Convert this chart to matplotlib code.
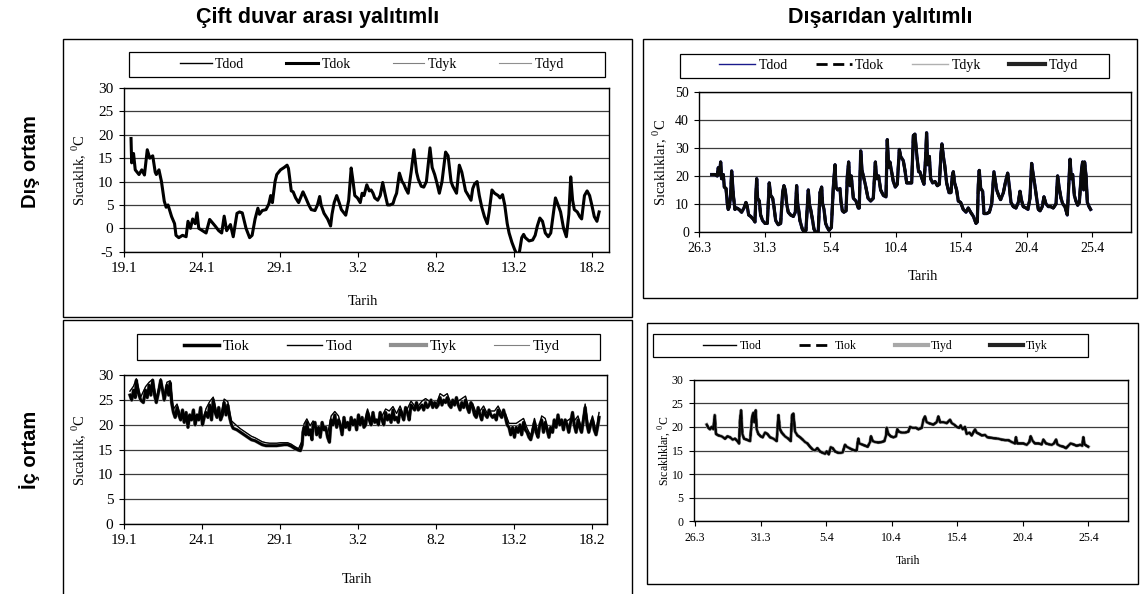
import matplotlib
matplotlib.use("Agg")
import matplotlib.pyplot as plt
from matplotlib.patches import Rectangle
from matplotlib.lines import Line2D

plt.rcParams['font.family'] = ['Liberation Serif', 'DejaVu Serif']
plt.rcParams['mathtext.fontset'] = 'custom'
plt.rcParams['mathtext.rm'] = 'Liberation Serif'
plt.rcParams['axes.unicode_minus'] = False

# ---------------- data (day offset from first tick, temperature) ----------------
TICK_DAYS = [0, 5, 10, 15, 20, 25, 30]
LEFT_TICKLABELS = ['19.1', '24.1', '29.1', '3.2', '8.2', '13.2', '18.2']
RIGHT_TICKLABELS = ['26.3', '31.3', '5.4', '10.4', '15.4', '20.4', '25.4']

# Çift duvar arası yalıtımlı - dış ortam (Tdod, Tdok, Tdyk, Tdyd overlap)
CDA_OUT = [(0.47,19.2),(0.51,14.0),(0.63,16.0),(0.74,12.5),(0.98,11.5),(1.16,12.5),(1.33,11.4),(1.51,16.8),(1.67,15.0),(1.86,15.5),
 (2.02,12.0),(2.09,11.5),(2.26,12.5),(2.42,10.0),(2.60,5.8),(2.72,4.5),(2.84,5.0),(3.07,2.5),(3.26,1.0),(3.35,-1.5),
 (3.53,-2.0),(3.77,-1.5),(4.00,-1.8),(4.12,1.5),(4.28,0.0),(4.42,2.0),(4.58,1.0),(4.70,3.3),(4.81,0.0),(5.05,-0.5),
 (5.28,-1.0),(5.51,1.9),(5.74,1.0),(5.86,0.5),(6.09,-0.5),(6.28,-1.0),(6.44,2.6),(6.60,-0.5),(6.84,0.8),(7.02,-1.8),
 (7.26,3.2),(7.42,3.5),(7.60,3.3),(7.84,0.0),(8.07,-2.0),(8.23,-1.5),(8.42,2.0),(8.60,4.3),(8.70,3.0),(8.88,3.8),
 (9.12,4.0),(9.30,5.2),(9.42,7.0),(9.53,5.5),(9.70,10.0),(9.81,11.5),(10.05,12.5),(10.28,13.0),(10.47,13.5),(10.56,12.8),
 (10.74,8.0),(10.86,7.8),(11.02,6.5),(11.21,5.5),(11.33,6.5),(11.49,7.8),(11.67,6.5),(11.86,5.0),(12.02,4.0),(12.26,3.8),
 (12.42,5.0),(12.56,6.8),(12.65,5.0),(12.84,3.2),(13.07,2.0),(13.26,0.5),(13.35,3.0),(13.49,5.5),(13.65,7.0),(13.81,5.5),
 (13.95,4.0),(14.23,2.8),(14.42,6.0),(14.58,12.9),(14.70,10.0),(14.81,7.0),(14.98,6.5),(15.16,5.5),(15.28,7.5),(15.40,7.0),
 (15.58,9.3),(15.74,8.0),(15.86,8.2),(15.98,7.5),(16.09,6.5),(16.28,6.0),(16.44,7.0),(16.60,9.8),(16.74,7.5),(16.91,5.0),
 (17.07,5.0),(17.26,5.3),(17.37,6.5),(17.49,7.5),(17.67,11.8),(17.84,10.0),(17.95,9.5),(18.07,8.5),(18.23,7.5),(18.42,12.0),
 (18.60,16.8),(18.77,12.0),(18.88,10.5),(19.07,9.0),(19.23,8.8),(19.40,10.0),(19.63,17.2),(19.77,13.0),(19.93,11.5),(20.05,10.0),
 (20.23,7.5),(20.40,10.0),(20.63,16.3),(20.79,15.5),(20.98,10.0),(21.09,9.0),(21.33,7.5),(21.51,13.5),(21.67,12.0),(21.79,10.0),
 (21.91,8.0),(22.09,7.0),(22.26,6.0),(22.37,8.5),(22.49,9.5),(22.65,10.0),(22.79,7.0),(22.95,4.5),(23.12,2.5),(23.30,1.0),
 (23.42,3.5),(23.60,8.2),(23.77,7.5),(24.00,7.0),(24.12,6.5),(24.28,7.2),(24.42,5.0),(24.58,1.0),(24.70,-1.0),(24.88,-3.0),
 (25.05,-4.5),(25.16,-5.3),(25.35,-5.3),(25.51,-2.0),(25.63,-1.3),(25.74,-2.0),(25.98,-2.7),(26.21,-2.5),(26.37,-1.5),(26.51,0.5),
 (26.67,2.2),(26.84,1.5),(27.02,-1.0),(27.21,-1.8),(27.37,-1.0),(27.53,3.0),(27.67,6.5),(27.84,5.0),(28.00,3.5),(28.19,0.0),
 (28.37,-1.8),(28.53,3.0),(28.65,11.0),(28.77,6.0),(28.88,4.0),(29.07,3.5),(29.23,2.5),(29.35,2.0),(29.53,7.0),(29.70,8.0),
 (29.86,7.0),(30.00,5.0),(30.16,2.5),(30.33,1.5),(30.47,3.5)]

# Dışarıdan yalıtımlı - dış ortam
DY_OUT = [(0.94,20.5),(1.20,20.5),(1.37,20.0),(1.45,23.0),(1.53,20.5),(1.63,25.0),(1.70,19.0),(1.83,20.5),(1.91,16.0),(2.04,15.5),
 (2.14,10.0),(2.21,8.0),(2.29,9.0),(2.39,13.0),(2.47,21.8),(2.60,13.0),(2.72,8.0),(2.85,8.5),(3.03,8.0),(3.23,7.0),
 (3.41,8.5),(3.56,10.5),(3.66,9.0),(3.77,6.0),(3.92,5.5),(4.12,4.5),(4.25,3.5),(4.33,14.0),(4.38,19.0),(4.45,12.0),
 (4.58,11.0),(4.68,6.0),(4.83,4.0),(5.01,3.0),(5.19,3.0),(5.34,17.5),(5.45,13.0),(5.60,12.0),(5.70,9.0),(5.83,4.0),
 (6.03,2.5),(6.21,3.0),(6.36,14.0),(6.46,16.5),(6.56,15.0),(6.67,10.0),(6.79,7.0),(6.97,6.0),(7.18,5.5),(7.33,7.0),
 (7.43,16.5),(7.51,10.0),(7.58,8.0),(7.68,4.0),(7.86,1.0),(7.99,0.0),(8.14,0.5),(8.32,15.0),(8.40,10.0),(8.50,8.0),
 (8.65,4.0),(8.75,1.0),(8.91,-0.5),(9.08,0.0),(9.21,14.0),(9.34,16.0),(9.41,10.0),(9.52,8.0),(9.64,3.0),(9.77,1.5),
 (9.90,0.5),(10.08,1.5),(10.23,16.0),(10.36,24.0),(10.43,16.0),(10.56,15.0),(10.74,15.5),(10.81,11.0),(10.92,7.5),(11.04,7.0),
 (11.20,7.5),(11.30,20.0),(11.40,25.0),(11.50,16.5),(11.60,20.0),(11.76,12.0),(11.96,11.0),(12.14,8.5),(12.21,8.5),(12.32,29.0),
 (12.42,22.0),(12.52,20.0),(12.67,17.0),(12.88,12.0),(13.08,11.0),(13.28,12.0),(13.44,25.0),(13.54,19.0),(13.69,20.0),(13.84,15.0),
 (14.05,13.0),(14.25,12.5),(14.35,33.0),(14.45,23.0),(14.55,25.0),(14.66,22.0),(14.81,18.0),(14.96,16.0),(15.11,17.0),(15.27,29.5),
 (15.37,27.0),(15.57,25.5),(15.70,22.0),(15.83,17.5),(16.03,17.5),(16.21,17.5),(16.34,34.5),(16.46,35.0),(16.59,28.0),(16.74,21.5),
 (16.84,21.5),(17.00,19.0),(17.15,17.0),(17.28,27.0),(17.35,35.5),(17.43,24.0),(17.56,27.0),(17.66,19.0),(17.81,17.5),(17.99,18.0),
 (18.17,16.5),(18.32,17.0),(18.45,28.0),(18.52,31.5),(18.63,27.0),(18.73,24.0),(18.88,17.5),(19.06,14.0),(19.21,14.0),(19.31,20.0),
 (19.39,21.5),(19.49,17.5),(19.64,15.0),(19.77,11.0),(19.95,10.5),(20.15,8.0),(20.36,7.0),(20.53,8.5),(20.71,7.0),(20.92,5.5),
 (21.12,3.0),(21.22,3.5),(21.30,17.0),(21.37,22.0),(21.48,15.5),(21.63,14.5),(21.73,6.5),(21.93,6.5),(22.14,7.0),(22.32,10.0),
 (22.49,21.5),(22.60,18.0),(22.70,15.0),(22.85,13.0),(23.00,11.5),(23.21,14.0),(23.38,18.0),(23.54,21.0),(23.66,16.5),(23.79,10.5),
 (23.97,9.0),(24.17,8.5),(24.35,10.5),(24.48,14.5),(24.61,11.0),(24.73,9.0),(24.94,8.5),(25.09,8.0),(25.24,12.0),(25.37,24.5),
 (25.50,20.0),(25.62,16.5),(25.75,12.0),(25.88,8.0),(26.01,7.5),(26.18,9.0),(26.31,12.5),(26.46,10.0),(26.64,9.0),(26.82,9.0),
 (27.02,8.5),(27.23,10.0),(27.35,20.0),(27.48,15.5),(27.61,12.0),(27.74,10.0),(27.91,9.0),(28.09,6.0),(28.30,26.0),(28.40,19.0),
 (28.50,20.5),(28.63,13.0),(28.75,11.0),(28.88,9.5),(29.01,10.5),(29.19,23.0),(29.26,25.0),(29.34,15.0),(29.41,25.0),(29.52,20.0),
 (29.62,10.5),(29.75,9.0),(29.87,8.0)]

# Çift duvar arası yalıtımlı - iç ortam: Tiok (lower) and Tiod/Tiyd (upper)
CDA_IN_LOW = [(0.40,26.0),(0.51,25.0),(0.63,27.0),(0.74,25.5),(0.81,29.0),(0.93,26.5),(1.09,25.0),(1.26,24.5),(1.40,27.0),(1.51,25.5),
 (1.63,28.0),(1.74,26.0),(1.86,29.0),(1.98,26.0),(2.09,24.5),(2.26,27.0),(2.37,29.0),(2.49,27.0),(2.60,25.0),(2.77,28.0),
 (2.88,26.0),(2.98,28.5),(3.07,24.5),(3.19,22.5),(3.30,21.5),(3.42,23.5),(3.53,22.0),(3.65,21.0),(3.77,23.0),(3.88,20.5),
 (4.00,22.5),(4.12,19.5),(4.23,22.0),(4.35,21.0),(4.47,23.0),(4.58,20.0),(4.70,22.0),(4.81,21.0),(4.93,23.5),(5.05,20.0),
 (5.16,21.5),(5.28,22.5),(5.40,21.5),(5.51,24.0),(5.63,21.0),(5.74,25.0),(5.86,22.5),(5.98,21.5),(6.09,23.5),(6.21,21.0),
 (6.33,22.0),(6.44,24.5),(6.56,22.0),(6.67,24.0),(6.79,21.5),(6.91,20.0),(7.02,19.3),(7.26,19.0),(7.49,18.5),(7.72,18.0),
 (7.95,17.5),(8.19,17.0),(8.42,16.8),(8.65,16.4),(8.88,16.0),(9.12,15.8),(9.35,15.8),(9.58,15.8),(9.81,15.8),(10.05,15.9),
 (10.28,16.0),(10.51,16.0),(10.74,15.7),(10.98,15.2),(11.21,14.9),(11.33,14.8),(11.44,16.0),(11.49,18.5),(11.56,19.5),(11.67,18.0),
 (11.74,20.5),(11.86,18.0),(11.95,19.0),(12.07,17.0),(12.14,20.0),(12.26,20.5),(12.37,18.0),(12.49,19.5),(12.60,17.5),(12.72,20.5),
 (12.84,19.0),(12.95,19.5),(13.07,17.5),(13.19,16.5),(13.30,21.0),(13.42,20.0),(13.53,22.0),(13.65,19.5),(13.77,21.0),(13.88,20.0),
 (14.00,18.0),(14.12,21.5),(14.23,19.5),(14.35,20.5),(14.47,19.0),(14.58,21.5),(14.70,20.0),(14.81,21.0),(14.93,19.0),(15.05,22.0),
 (15.16,20.0),(15.28,21.5),(15.40,19.5),(15.51,20.0),(15.63,22.5),(15.74,21.0),(15.86,20.0),(15.98,22.5),(16.09,20.5),(16.21,21.0),
 (16.33,20.0),(16.44,22.5),(16.56,21.0),(16.67,20.0),(16.79,22.5),(16.91,21.0),(17.02,22.0),(17.14,20.5),(17.26,23.0),(17.37,21.0),
 (17.49,21.5),(17.60,20.5),(17.72,23.0),(17.84,22.0),(17.95,21.0),(18.07,23.5),(18.19,22.5),(18.30,21.0),(18.42,24.0),(18.53,23.5),
 (18.65,23.0),(18.77,24.5),(18.88,23.0),(19.00,23.5),(19.12,24.0),(19.23,23.0),(19.35,24.5),(19.47,23.5),(19.58,24.0),(19.70,25.0),
 (19.81,23.5),(19.93,24.5),(20.05,23.5),(20.16,24.0),(20.28,25.5),(20.40,24.0),(20.51,25.0),(20.63,24.5),(20.74,25.5),(20.86,24.0),
 (20.98,23.5),(21.09,25.0),(21.21,24.0),(21.33,25.5),(21.44,24.0),(21.56,23.0),(21.67,24.5),(21.79,23.5),(21.91,25.0),(22.02,23.5),
 (22.14,22.5),(22.26,24.5),(22.37,23.5),(22.49,22.0),(22.60,21.5),(22.72,23.5),(22.84,22.0),(22.95,21.0),(23.07,23.0),(23.19,22.0),
 (23.30,21.5),(23.42,23.0),(23.53,22.0),(23.65,21.5),(23.77,22.0),(23.88,21.0),(24.00,23.0),(24.12,22.0),(24.23,21.5),(24.35,23.0),
 (24.47,21.5),(24.58,20.0),(24.70,19.5),(24.81,18.0),(24.93,19.5),(25.05,17.5),(25.16,19.5),(25.28,18.5),(25.40,20.0),(25.51,18.0),
 (25.63,20.5),(25.74,19.0),(25.86,18.5),(25.98,17.5),(26.09,17.0),(26.21,18.5),(26.33,20.5),(26.44,18.5),(26.56,17.5),(26.67,20.0),
 (26.79,21.0),(26.91,18.5),(27.02,20.5),(27.14,19.0),(27.26,17.5),(27.37,19.5),(27.49,18.5),(27.60,21.0),(27.72,19.5),(27.84,22.0),
 (27.95,20.0),(28.07,21.0),(28.19,19.0),(28.30,21.0),(28.42,20.0),(28.53,18.5),(28.65,20.5),(28.77,22.5),(28.88,20.0),(29.00,18.5),
 (29.12,21.0),(29.23,19.5),(29.35,18.5),(29.47,21.0),(29.58,23.5),(29.70,20.0),(29.81,18.5),(29.93,20.0),(30.05,21.0),(30.16,19.0),
 (30.28,18.0),(30.40,20.0),(30.47,21.5)]

CDA_IN_HIGH = [(0.40,26.8),(0.63,27.8),(0.81,29.3),(1.09,25.6),(1.40,27.7),(1.63,28.6),(1.86,29.2),(2.09,25.3),(2.37,29.3),(2.60,25.8),
 (2.77,28.6),(2.98,28.9),(3.19,23.2),(3.42,24.2),(3.65,21.8),(3.88,21.3),(4.12,20.3),(4.35,21.8),(4.58,20.8),(4.81,21.8),
 (5.05,20.8),(5.28,23.3),(5.51,24.7),(5.74,25.6),(5.98,22.3),(6.21,21.8),(6.44,25.2),(6.67,24.7),(6.91,20.8),(7.26,19.8),
 (7.49,19.2),(7.72,18.7),(7.95,18.2),(8.19,17.7),(8.42,17.4),(8.65,17.0),(8.88,16.6),(9.12,16.4),(9.35,16.3),(9.58,16.3),
 (9.81,16.3),(10.05,16.4),(10.28,16.4),(10.51,16.4),(10.74,16.1),(10.98,15.6),(11.21,15.2),(11.44,16.8),(11.56,20.2),(11.74,21.2),
 (11.95,19.8),(12.14,20.8),(12.37,18.8),(12.60,18.3),(12.84,19.8),(13.07,18.2),(13.30,21.8),(13.53,22.7),(13.77,21.8),(14.00,18.8),
 (14.23,20.3),(14.47,19.8),(14.70,20.8),(14.93,19.8),(15.16,20.8),(15.40,20.3),(15.63,23.2),(15.86,20.8),(16.09,21.2),(16.33,20.8),
 (16.56,21.8),(16.79,23.2),(17.02,22.8),(17.26,23.7),(17.49,22.3),(17.72,23.8),(17.95,21.8),(18.19,23.3),(18.42,24.8),(18.65,23.8),
 (18.88,23.8),(19.12,24.8),(19.35,25.3),(19.58,24.8),(19.81,24.3),(20.05,24.3),(20.28,26.3),(20.51,25.8),(20.74,26.3),(20.98,24.3),
 (21.21,24.8),(21.44,24.8),(21.67,25.3),(21.91,25.8),(22.14,23.3),(22.37,24.3),(22.60,22.3),(22.84,22.8),(23.07,23.8),(23.30,22.3),
 (23.53,22.8),(23.77,22.8),(24.00,23.8),(24.23,22.3),(24.47,22.3),(24.70,20.3),(24.93,20.3),(25.16,20.3),(25.40,20.8),(25.63,21.3),
 (25.86,19.3),(26.09,17.8),(26.33,21.3),(26.56,18.3),(26.79,21.8),(27.02,21.3),(27.26,18.3),(27.49,19.3),(27.72,20.3),(27.95,20.8),
 (28.19,19.8),(28.42,20.8),(28.65,21.3),(28.88,20.8),(29.12,21.8),(29.35,19.3),(29.58,24.2),(29.81,19.3),(30.05,21.8),(30.28,18.8),
 (30.47,22.5)]

# Dışarıdan yalıtımlı - iç ortam (Tiod, Tiok, Tiyd, Tiyk overlap)
DY_IN = [(0.89,20.5),(1.02,19.8),(1.14,19.5),(1.27,20.0),(1.40,19.5),(1.50,22.5),(1.60,18.5),(1.78,18.2),(2.03,18.0),(2.29,17.5),
 (2.47,18.0),(2.67,17.8),(2.87,17.3),(3.05,17.5),(3.23,17.0),(3.36,16.5),(3.43,21.5),(3.51,23.5),(3.61,18.5),(3.74,17.5),
 (3.94,17.3),(4.20,17.0),(4.35,22.0),(4.45,23.0),(4.53,21.0),(4.63,23.5),(4.70,19.5),(4.83,18.5),(5.01,18.0),(5.16,17.8),
 (5.34,18.8),(5.52,18.5),(5.72,17.8),(5.98,17.5),(6.23,17.0),(6.36,22.5),(6.48,19.5),(6.61,18.8),(6.86,18.0),(7.12,17.5),
 (7.30,17.0),(7.40,22.5),(7.50,22.8),(7.63,19.0),(7.81,18.2),(8.01,17.8),(8.21,17.3),(8.39,16.8),(8.57,16.5),(8.77,15.8),
 (8.98,15.2),(9.15,15.0),(9.33,15.5),(9.53,14.8),(9.74,14.5),(9.92,14.3),(10.04,14.8),(10.20,14.2),(10.35,15.7),(10.50,15.5),
 (10.68,14.8),(10.93,14.5),(11.11,14.5),(11.26,14.6),(11.44,16.2),(11.57,15.8),(11.77,15.5),(11.98,15.2),(12.20,15.0),(12.33,15.0),
 (12.41,16.7),(12.46,17.5),(12.53,16.5),(12.71,16.3),(12.97,16.0),(13.17,15.8),(13.35,16.8),(13.42,18.0),(13.55,17.0),(13.73,16.8),
 (13.98,16.7),(14.24,16.8),(14.44,17.0),(14.57,18.2),(14.62,19.8),(14.75,18.5),(14.93,18.0),(15.13,17.8),(15.33,18.0),(15.43,19.5),
 (15.54,19.0),(15.76,18.8),(16.02,18.8),(16.27,19.0),(16.40,20.0),(16.60,19.8),(16.86,19.8),(17.04,19.5),(17.29,19.8),(17.42,21.5),
 (17.54,22.2),(17.67,21.0),(17.92,20.7),(18.18,20.5),(18.43,21.0),(18.56,22.2),(18.69,21.0),(18.94,21.0),(19.20,20.8),(19.45,21.5),
 (19.58,20.8),(19.76,20.5),(19.96,20.0),(20.16,19.8),(20.26,20.3),(20.42,19.5),(20.59,20.0),(20.72,18.5),(20.93,18.8),(21.10,18.2),
 (21.36,19.5),(21.48,18.8),(21.69,18.5),(21.87,18.2),(22.12,18.3),(22.30,17.8),(22.55,17.7),(22.81,17.6),(23.14,17.5),(23.39,17.3),
 (23.65,17.2),(23.90,17.2),(24.15,16.8),(24.41,16.5),(24.48,17.8),(24.59,16.5),(24.79,16.5),(25.04,16.5),(25.30,16.2),(25.50,16.8),
 (25.60,18.0),(25.76,17.0),(25.93,16.5),(26.19,16.5),(26.44,16.3),(26.57,17.3),(26.77,16.5),(27.03,16.3),(27.21,16.2),(27.38,16.5),
 (27.54,17.3),(27.64,16.3),(27.84,16.0),(28.10,15.8),(28.30,15.5),(28.48,16.0),(28.65,16.5),(28.86,16.3),(29.11,16.0),(29.37,16.2),
 (29.54,16.0),(29.62,17.8),(29.72,16.3),(29.87,16.0),(30.00,15.8)]


def unzip(pairs):
    return [p[0] for p in pairs], [p[1] for p in pairs]


# ---------------- figure & layout helpers ----------------
W, H = 1146, 594
fig = plt.figure(figsize=(W / 100, H / 100), dpi=100)
fig.patch.set_facecolor('white')


def fx(x):
    return x / W


def fy(y):
    return 1 - y / H


def add_ax(l, t, r, b):
    return fig.add_axes([l / W, 1 - b / H, (r - l) / W, (b - t) / H])


def frame(l, t, r, b, lw=1.0, color='black'):
    fig.add_artist(Rectangle((l / W, 1 - b / H), (r - l) / W, (b - t) / H,
                             transform=fig.transFigure, fill=False,
                             edgecolor=color, lw=lw, clip_on=False))


def style(ax, xlim, ylim, yticks, xlabels, fs):
    ax.set_xlim(*xlim)
    ax.set_ylim(*ylim)
    ax.set_yticks(yticks)
    ax.set_xticks(TICK_DAYS)
    ax.set_xticklabels(xlabels)
    ax.grid(axis='y', color='#3c3c3c', lw=0.9)
    ax.grid(axis='x', visible=False)
    ax.set_axisbelow(True)
    for s in ax.spines.values():
        s.set_color('black')
        s.set_linewidth(1.0)
    ax.tick_params(direction='out', length=3.5, width=0.8, labelsize=fs, pad=4,
                   colors='black')


def legend_box(handles, labels, l, t, r, b, cx, fs, hl, cs):
    frame(l, t, r, b, lw=0.9)
    fig.legend(handles, labels, loc='center', bbox_to_anchor=(fx(cx), fy((t + b) / 2)),
               ncol=4, frameon=False, fontsize=fs, handlelength=hl,
               handletextpad=0.25, columnspacing=cs, borderpad=0.0)


# ---------------- panel frames ----------------
frame(62.7, 39, 632, 317)
frame(62.7, 320, 632, 600)
frame(643.3, 39, 1136.7, 298.3)
frame(647.3, 323, 1138, 583.7)

# ---------------- titles ----------------
tfont = dict(family=['Liberation Sans', 'DejaVu Sans'], weight='bold', fontsize=15.5)
fig.text(fx(318), fy(18), 'Çift duvar arası yalıtımlı', ha='center', va='center', **tfont)
fig.text(fx(880), fy(18), 'Dışarıdan yalıtımlı', ha='center', va='center', **tfont)
rfont = dict(family=['Liberation Sans', 'DejaVu Sans'], weight='bold', fontsize=14.5)
fig.text(fx(30), fy(162), 'Dış ortam', ha='center', va='center', rotation=90, **rfont)
fig.text(fx(30), fy(450), 'İç ortam', ha='center', va='center', rotation=90, **rfont)

# ---------------- panel 1 ----------------
ax1 = add_ax(123.7, 88, 608.8, 251.7)
style(ax1, (0, 31.09), (-5, 30), range(-5, 31, 5), LEFT_TICKLABELS, 11)
x, y = unzip(CDA_OUT)
ax1.plot(x, y, color='#a0a0a0', lw=0.8)          # Tdyd
ax1.plot(x, y, color='#808080', lw=0.8)          # Tdyk
ax1.plot(x, y, color='black', lw=1.0)            # Tdod
ax1.plot(x, y, color='black', lw=2.2)            # Tdok
fig.text(fx(79), fy(170), 'Sıcaklık, $^{0}$C', rotation=90, ha='center', va='center', fontsize=10.5)
fig.text(fx(363), fy(301.7), 'Tarih', ha='center', va='center', fontsize=10.5)
h1 = [Line2D([], [], color='black', lw=1.0), Line2D([], [], color='black', lw=2.2),
      Line2D([], [], color='#808080', lw=0.8), Line2D([], [], color='#909090', lw=0.8)]
legend_box(h1, ['Tdod', 'Tdok', 'Tdyk', 'Tdyd'], 128.8, 51.7, 605.2, 76.7, 371.8, 10, 2.3, 3.0)

# ---------------- panel 2 ----------------
ax2 = add_ax(699.3, 92.3, 1130.7, 231.7)
style(ax2, (0, 32.93), (0, 50), range(0, 51, 10), RIGHT_TICKLABELS, 10)
x, y = unzip(DY_OUT)
ax2.plot(x, y, color='#1a1a8c', lw=2.35)                         # Tdod
ax2.plot(x, y, color='#b0b0b0', lw=1.0)                          # Tdyk
ax2.plot(x, y, color='black', lw=2.0, ls=(0, (4, 2)))            # Tdok
ax2.plot(x, y, color='#0a0a0a', lw=2.1)                          # Tdyd
fig.text(fx(660), fy(162), 'Sıcaklıklar, $^{0}$C', rotation=90, ha='center', va='center', fontsize=10.5)
fig.text(fx(922.7), fy(276.7), 'Tarih', ha='center', va='center', fontsize=10.5)
h2 = [Line2D([], [], color='#1a1a8c', lw=1.0), Line2D([], [], color='black', lw=2.0, ls=(0, (4, 2))),
      Line2D([], [], color='#b0b0b0', lw=1.0), Line2D([], [], color='#222222', lw=3.0)]
legend_box(h2, ['Tdod', 'Tdok', 'Tdyk', 'Tdyd'], 680, 54, 1109.3, 77.7, 898.5, 10, 2.6, 2.0)

# ---------------- panel 3 ----------------
ax3 = add_ax(123.7, 375.3, 607, 524)
style(ax3, (0, 30.98), (0, 30), range(0, 31, 5), LEFT_TICKLABELS, 11)
xl, yl = unzip(CDA_IN_LOW)
xh, yh = unzip(CDA_IN_HIGH)
ax3.plot(xl, yl, color='#909090', lw=2.6)         # Tiyk
ax3.plot(xh, yh, color='#808080', lw=0.8)         # Tiyd
ax3.plot(xh, yh, color='black', lw=0.9)           # Tiod
ax3.plot(xl, yl, color='black', lw=2.0)           # Tiok
fig.text(fx(79), fy(449.6), 'Sıcaklık, $^{0}$C', rotation=90, ha='center', va='center', fontsize=10.5)
fig.text(fx(356.6), fy(579.7), 'Tarih', ha='center', va='center', fontsize=10.5)
h3 = [Line2D([], [], color='black', lw=2.5), Line2D([], [], color='black', lw=1.0),
      Line2D([], [], color='#909090', lw=3.0), Line2D([], [], color='#808080', lw=0.8)]
legend_box(h3, ['Tiok', 'Tiod', 'Tiyk', 'Tiyd'], 137.1, 334, 599.8, 359.7, 372, 10.5, 2.4, 2.6)

# ---------------- panel 4 ----------------
ax4 = add_ax(694, 379.7, 1128.3, 521.3)
style(ax4, (-0.08, 33.05), (0, 30), range(0, 31, 5), RIGHT_TICKLABELS, 8.5)
x, y = unzip(DY_IN)
ax4.plot(x, y, color='#a8a8a8', lw=2.5)                          # Tiyd
ax4.plot(x, y, color='black', lw=1.6, ls=(0, (4, 2)))            # Tiok
ax4.plot(x, y, color='#1a1a1a', lw=1.6)                          # Tiyk
ax4.plot(x, y, color='black', lw=0.9)                            # Tiod
fig.text(fx(665), fy(450.5), 'Sıcaklıklar, $^{0}$C', rotation=90, ha='center', va='center', fontsize=8.5)
fig.text(fx(908), fy(561.3), 'Tarih', ha='center', va='center', fontsize=8.5)
h4 = [Line2D([], [], color='black', lw=1.0), Line2D([], [], color='black', lw=2.0, ls=(0, (4, 2))),
      Line2D([], [], color='#a8a8a8', lw=3.0), Line2D([], [], color='#222222', lw=3.0)]
legend_box(h4, ['Tiod', 'Tiok', 'Tiyd', 'Tiyk'], 653.3, 334, 1088.3, 357.3, 875.5, 8.5, 2.8, 3.2)

fig.savefig('out.png', dpi=100, facecolor='white')
